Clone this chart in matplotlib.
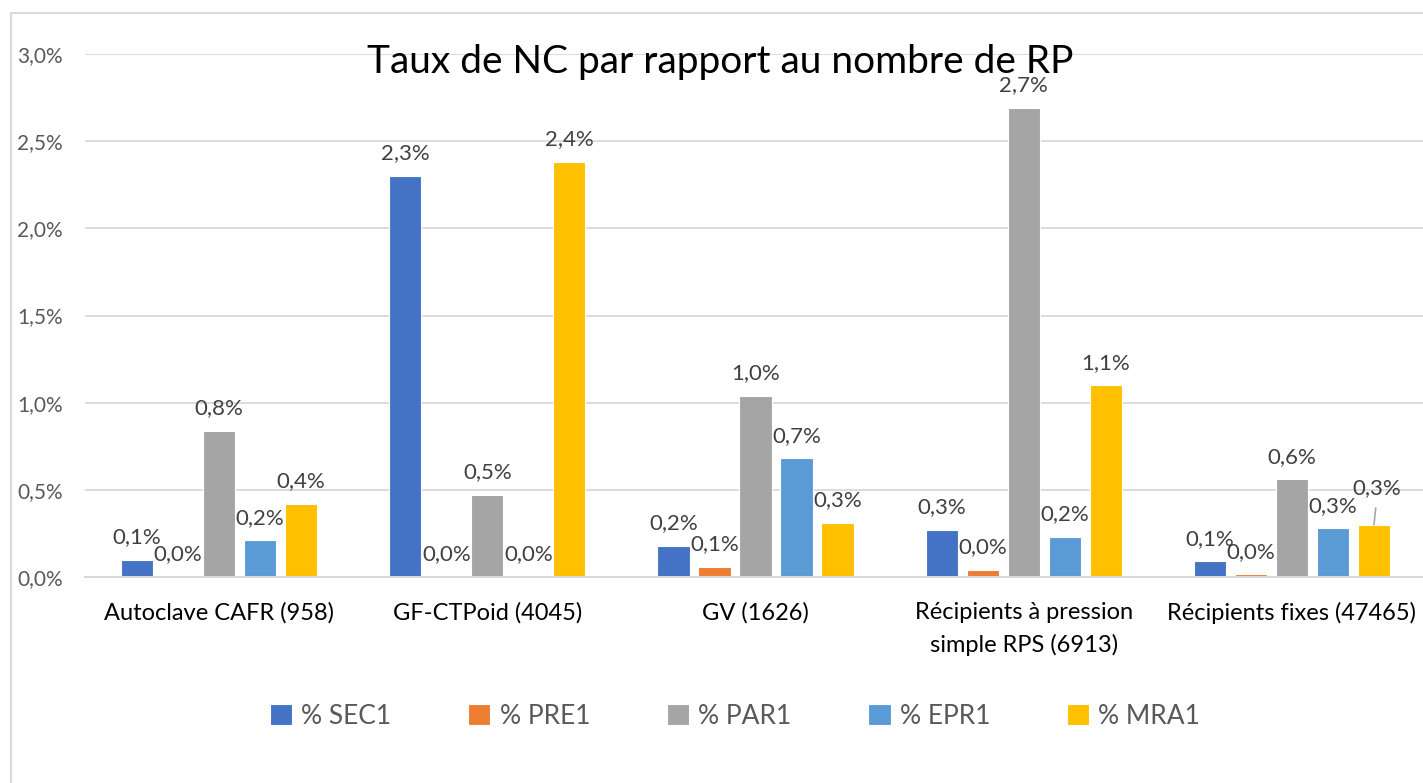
import numpy as np
import matplotlib.pyplot as plt
from matplotlib.patches import Rectangle
from matplotlib.ticker import FuncFormatter

plt.rcParams['font.family'] = ['Lato', 'DejaVu Sans']

categories = ["Autoclave CAFR (958)", "GF-CTPoid (4045)", "GV (1626)",
              "Récipients à pression\nsimple RPS (6913)", "Récipients fixes (47465)"]
series = ["% SEC1", "% PRE1", "% PAR1", "% EPR1", "% MRA1"]
# values in percent
sec1 = [0.10, 2.30, 0.18, 0.27, 0.09]
pre1 = [0.00, 0.00, 0.06, 0.04, 0.015]
par1 = [0.84, 0.47, 1.04, 2.69, 0.56]
epr1 = [0.21, 0.00, 0.68, 0.23, 0.28]
mra1 = [0.42, 2.38, 0.31, 1.10, 0.30]
colors = ["#4472C4", "#ED7D31", "#A5A5A5", "#5B9BD5", "#FFC000"]

data = [sec1, pre1, par1, epr1, mra1]

fig = plt.figure(figsize=(14.23, 7.83), dpi=100)
# chart area border
fig.patches.append(Rectangle((11 / 1423, -0.1), 1.2, 1 - 13 / 783 + 0.1,
                             transform=fig.transFigure, fill=False,
                             edgecolor="#D9D9D9", linewidth=1.5))

ax = fig.add_axes([85 / 1423, 1 - 577 / 783, (1426 - 85) / 1423, (577 - 54) / 783])

x = np.arange(len(categories))
step = 0.153
width = 0.12
for i, (vals, name, col) in enumerate(zip(data, series, colors)):
    pos = x + (i - 2) * step
    bars = ax.bar(pos, vals, width, color=col, label=name, edgecolor="white", linewidth=0.8, zorder=3)
    for j, (b, v) in enumerate(zip(bars, vals)):
        txt = f"{v:.1f}%".replace(".", ",")
        if i == 4 and j == 4:
            # label pulled up with a leader line
            ax.annotate(txt, (b.get_x() + b.get_width() / 2, v), xytext=(2, 19),
                        textcoords="offset points", ha="center", va="bottom",
                        fontsize=16, color="#404040",
                        arrowprops=dict(arrowstyle="-", color="#A6A6A6", lw=1.2,
                                        shrinkA=5, shrinkB=0, relpos=(0.5, 0)))
        else:
            ax.annotate(txt, (b.get_x() + b.get_width() / 2, v), xytext=(0, 9),
                        textcoords="offset points", ha="center", va="bottom",
                        fontsize=16, color="#404040")

ax.set_xlim(-0.5, len(categories) - 0.5)
ax.set_ylim(0, 3.0)
ax.set_yticks(np.arange(0, 3.01, 0.5))
ax.yaxis.set_major_formatter(FuncFormatter(lambda v, p: f"{v:.1f}%".replace(".", ",")))
ax.set_xticks(x)
ax.set_xticklabels(categories, fontsize=17, color="black", linespacing=1.6)
ax.tick_params(axis="y", labelsize=15, labelcolor="#595959", length=0, pad=16)
ax.tick_params(axis="x", length=0, pad=18)
ax.grid(axis="y", color="#D9D9D9", linewidth=1.3, zorder=0)
for s in ["top", "right", "left"]:
    ax.spines[s].set_visible(False)
ax.spines["bottom"].set_color("#D9D9D9")
ax.spines["bottom"].set_linewidth(1.5)
ax.spines["bottom"].set_zorder(4)

fig.text(720 / 1423, 1 - 62 / 783, "Taux de NC par rapport au nombre de RP",
         ha="center", va="center", fontsize=28, color="black")

fig.legend(loc="center", bbox_to_anchor=(735 / 1423, 1 - 716 / 783), ncol=5,
           frameon=False, fontsize=19, labelcolor="#595959",
           handlelength=0.85, handleheight=0.85, columnspacing=2.9, handletextpad=0.35)

fig.savefig("out.png", dpi=100)
